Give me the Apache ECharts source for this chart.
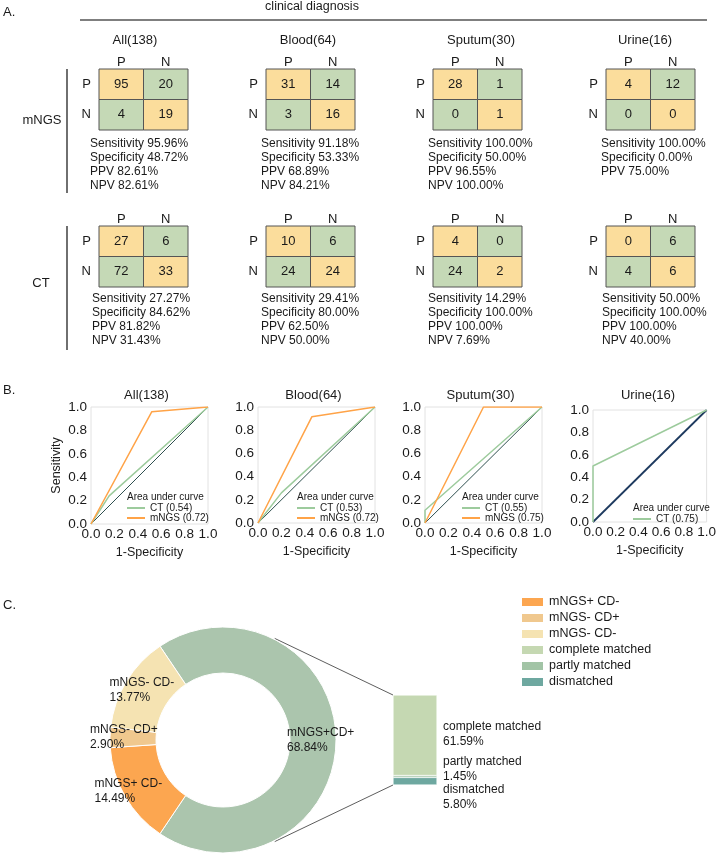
<!DOCTYPE html>
<html><head><meta charset="utf-8">
<script src="https://cdn.jsdelivr.net/npm/echarts@6/dist/echarts.min.js"></script>
<style>html,body{margin:0;padding:0;background:#fff}#c{width:719px;height:854px}</style>
</head><body><div id="c"></div>
<script>
const FONT = '"Liberation Sans", Arial, Helvetica, sans-serif';
const TXT = '#1a1a1a';

// ---------- Panel A data ----------
const groups = ['All(138)', 'Blood(64)', 'Sputum(30)', 'Urine(16)'];
const methods = ['mNGS', 'CT'];
const matLabels = ['P', 'N'];
const mngsMatrix = [[[95, 20], [4, 19]], [[31, 14], [3, 16]], [[28, 1], [0, 1]], [[4, 12], [0, 0]]];
const ctMatrix = [[[27, 6], [72, 33]], [[10, 6], [24, 24]], [[4, 0], [24, 2]], [[0, 6], [4, 6]]];
const mngsStats = [
  ['Sensitivity 95.96%', 'Specificity 48.72%', 'PPV 82.61%', 'NPV 82.61%'],
  ['Sensitivity 91.18%', 'Specificity 53.33%', 'PPV 68.89%', 'NPV 84.21%'],
  ['Sensitivity 100.00%', 'Specificity 50.00%', 'PPV 96.55%', 'NPV 100.00%'],
  ['Sensitivity 100.00%', 'Specificity 0.00%', 'PPV 75.00%']
];
const ctStats = [
  ['Sensitivity 27.27%', 'Specificity 84.62%', 'PPV 81.82%', 'NPV 31.43%'],
  ['Sensitivity 29.41%', 'Specificity 80.00%', 'PPV 62.50%', 'NPV 50.00%'],
  ['Sensitivity 14.29%', 'Specificity 100.00%', 'PPV 100.00%', 'NPV 7.69%'],
  ['Sensitivity 50.00%', 'Specificity 100.00%', 'PPV 100.00%', 'NPV 40.00%']
];

// ---------- Panel B data ----------
const rocMNGS = [
  [[0, 0], [0.52, 0.96], [1, 1]],
  [[0, 0], [0.46, 0.915], [1, 1]],
  [[0, 0], [0.5, 1], [1, 1]],
  null
];
const rocCT = [
  [[0, 0], [0.155, 0.24], [1, 1]],
  [[0, 0], [0.2, 0.26], [1, 1]],
  [[0, 0], [0, 0.11], [1, 1]],
  [[0, 0], [0, 0.5], [1, 1]]
];
const rocDiag = [[0, 0], [1, 1]];
const aucCT = ['0.54', '0.53', '0.55', '0.75'];
const aucMNGS = ['0.72', '0.72', '0.75', null];

// ---------- Panel C data ----------
const donutNames = ['mNGS+CD+', 'mNGS+ CD-', 'mNGS- CD+', 'mNGS- CD-'];
const donutValues = [68.84, 14.49, 2.90, 13.77];
const matchNames = ['complete matched', 'partly matched', 'dismatched'];
const matchValues = [61.59, 1.45, 5.80];
const legendNames = ['mNGS+ CD-', 'mNGS- CD+', 'mNGS- CD-', 'complete matched', 'partly matched', 'dismatched'];

// ---------- styles / layout ----------
const COL_DIAG = '#fbdd9c', COL_OFF = '#c5d9b6';
const donutColors = ['#abc5ad', '#fca650', '#f0c88e', '#f5e3b2'];
const matchColors = ['#c5d8b2', '#a2c4a6', '#6ea8a0'];
const COL_MNGS = '#ffa347', COL_CT = '#9dcb9d';

const matLeft = [99, 266, 433, 606];
const matTop = [69, 226];
const matW = 89, matH = 61;
const titleX = [135, 308, 481, 645];
const statsLeft = [[90, 261, 428, 601], [92, 261, 428, 602]];
const statsTop = [137, 292];

const rocGrid = [
  { l: 91, t: 407, w: 117, h: 117 },
  { l: 258, t: 407, w: 117, h: 116 },
  { l: 425, t: 407, w: 117, h: 116 },
  { l: 593, t: 410, w: 116, h: 112 }
];
const rocLeg = [{ x: 127, y: 497 }, { x: 297, y: 497 }, { x: 462, y: 497 }, { x: 633, y: 508 }];

const pieC = [223, 740], pieR = [67, 113];
const barBox = { l: 393, t: 695, w: 44, h: 90 };

const chart = echarts.init(document.getElementById('c'), null, { renderer: 'canvas' });

const grid = [], xAxis = [], yAxis = [], series = [], graphic = [], legend = [];

function txt(x, y, text, opts) {
  return {
    type: 'text', x: x, y: y, silent: true,
    style: Object.assign({ text: text, fontSize: 13, fill: TXT, fontFamily: FONT, textVerticalAlign: 'middle' }, opts || {})
  };
}

// ---------- Panel A ----------
graphic.push(txt(3, 12, 'A.', { fontSize: 13 }));
graphic.push(txt(312, 7, 'clinical diagnosis', { textAlign: 'center', fontSize: 12.5 }));
graphic.push({ type: 'line', silent: true, shape: { x1: 80, y1: 20, x2: 707, y2: 20 }, style: { stroke: '#555', lineWidth: 1.5 } });
groups.forEach((g, i) => graphic.push(txt(titleX[i], 40, g, { textAlign: 'center', fontSize: 13 })));
graphic.push(txt(42, 120, 'mNGS', { textAlign: 'center', fontSize: 13 }));
graphic.push(txt(41, 283, 'CT', { textAlign: 'center', fontSize: 13 }));
graphic.push({ type: 'line', silent: true, shape: { x1: 67, y1: 69, x2: 67, y2: 193 }, style: { stroke: '#222', lineWidth: 1.3 } });
graphic.push({ type: 'line', silent: true, shape: { x1: 67, y1: 226, x2: 67, y2: 350 }, style: { stroke: '#222', lineWidth: 1.3 } });

function renderCell(params, api) {
  const c = api.value(0), r = api.value(1), v = api.value(2);
  const p = api.coord([c, r]);
  const s = api.size([1, 1]);
  return {
    type: 'rect',
    shape: { x: p[0] - s[0] / 2, y: p[1] - s[1] / 2, width: s[0], height: s[1] },
    style: { fill: c === r ? COL_DIAG : COL_OFF, stroke: '#555', lineWidth: 1 },
    textContent: { style: { text: String(v), fontSize: 13, fill: TXT, fontFamily: FONT } },
    textConfig: { position: 'inside' }
  };
}

[mngsMatrix, ctMatrix].forEach((mats, m) => {
  mats.forEach((mat, g) => {
    const gi = grid.length;
    grid.push({ left: matLeft[g], top: matTop[m], width: matW, height: matH, containLabel: false });
    xAxis.push({
      gridIndex: gi, type: 'category', data: matLabels, position: 'top',
      axisLine: { show: false }, axisTick: { show: false }, splitLine: { show: false },
      axisLabel: { fontSize: 13, color: TXT, margin: 0.5, fontFamily: FONT }
    });
    yAxis.push({
      gridIndex: gi, type: 'category', data: matLabels, inverse: true,
      axisLine: { show: false }, axisTick: { show: false }, splitLine: { show: false },
      axisLabel: { fontSize: 13, color: TXT, margin: 8, fontFamily: FONT }
    });
    const data = [];
    for (let r = 0; r < 2; r++) for (let c = 0; c < 2; c++) data.push([c, r, mat[r][c]]);
    series.push({
      type: 'custom', xAxisIndex: gi, yAxisIndex: gi, renderItem: renderCell,
      encode: { x: 0, y: 1 }, data: data, silent: true, animation: false
    });
    const st = (m === 0 ? mngsStats : ctStats)[g];
    graphic.push({
      type: 'text', silent: true, x: statsLeft[m][g], y: statsTop[m],
      style: { text: st.join('\n'), fontSize: 12, lineHeight: 14, fill: TXT, fontFamily: FONT }
    });
  });
});

// ---------- Panel B ----------
graphic.push(txt(3, 390, 'B.', { fontSize: 13 }));
rocGrid.forEach((rg, i) => {
  const gi = grid.length;
  grid.push({ left: rg.l, top: rg.t, width: rg.w, height: rg.h, show: true, borderColor: '#e2e2e2', borderWidth: 1 });
  xAxis.push({
    gridIndex: gi, type: 'value', min: 0, max: 1, interval: 0.2,
    name: '1-Specificity', nameLocation: 'middle', nameGap: 22,
    nameTextStyle: { fontSize: 12.5, color: TXT, fontFamily: FONT },
    axisLine: { show: false }, axisTick: { show: false }, splitLine: { show: false },
    axisLabel: { fontSize: 13.5, color: TXT, margin: 3, fontFamily: FONT, formatter: v => v.toFixed(1) }
  });
  yAxis.push({
    gridIndex: gi, type: 'value', min: 0, max: 1, interval: 0.2,
    name: i === 0 ? 'Sensitivity' : '', nameLocation: 'middle', nameGap: 28,
    nameTextStyle: { fontSize: 12.5, color: TXT, fontFamily: FONT },
    axisLine: { show: false }, axisTick: { show: false }, splitLine: { show: false },
    axisLabel: { fontSize: 13.5, color: TXT, margin: 4, fontFamily: FONT, formatter: v => v.toFixed(1) }
  });
  graphic.push(txt(rg.l + rg.w / 2 - 3, 395, groups[i], { textAlign: 'center', fontSize: 13 }));
  series.push({
    type: 'line', xAxisIndex: gi, yAxisIndex: gi, data: rocDiag, showSymbol: false, symbol: 'none',
    silent: true, animation: false, z: 1,
    lineStyle: { color: i === 3 ? '#1e3a5f' : '#2f4f4f', width: i === 3 ? 1.8 : 1 }
  });
  const legData = [];
  const ctName = 'CT (' + aucCT[i] + ')';
  series.push({
    type: 'line', name: ctName, xAxisIndex: gi, yAxisIndex: gi, data: rocCT[i], showSymbol: false, symbol: 'none',
    animation: false, z: 2, color: COL_CT, lineStyle: { color: COL_CT, width: 1.5 }
  });
  legData.push(ctName);
  if (rocMNGS[i]) {
    const mName = 'mNGS (' + aucMNGS[i] + ')';
    series.push({
      type: 'line', name: mName, xAxisIndex: gi, yAxisIndex: gi, data: rocMNGS[i], showSymbol: false, symbol: 'none',
      animation: false, z: 3, color: COL_MNGS, lineStyle: { color: COL_MNGS, width: 1.5 }
    });
    legData.push(mName);
  }
  graphic.push(txt(rocLeg[i].x, rocLeg[i].y, 'Area under curve', { fontSize: 10 }));
  legend.push({
    left: rocLeg[i].x, top: rocLeg[i].y + 6, orient: 'vertical', padding: 0, data: legData,
    icon: 'rect', itemWidth: 18, itemHeight: 2, itemGap: 0, selectedMode: false,
    textStyle: { fontSize: 10, color: TXT, fontFamily: FONT, lineHeight: 10, padding: [0, 0, 0, 0] }
  });
});

// ---------- Panel C ----------
graphic.push(txt(3, 605, 'C.', { fontSize: 13 }));
const pieOffsets = [[-29, 0], [-48, 5], [-40, -1], [-34, -1]];
series.push({
  type: 'pie', center: pieC, radius: pieR, startAngle: 123.9, clockwise: true,
  animation: false, silent: true, avoidLabelOverlap: false,
  itemStyle: { borderColor: '#fff', borderWidth: 1 },
  label: {
    show: true, position: 'inside', fontSize: 12, lineHeight: 15, color: TXT, fontFamily: FONT,
    formatter: p => p.name + '\n' + p.value.toFixed(2) + '%'
  },
  labelLine: { show: false },
  labelLayout: p => ({ dx: pieOffsets[p.dataIndex][0], dy: pieOffsets[p.dataIndex][1], align: 'left' }),
  data: donutNames.map((n, i) => ({ name: n, value: donutValues[i], itemStyle: { color: donutColors[i] } }))
});

const barGi = grid.length;
grid.push({ left: barBox.l, top: barBox.t, width: barBox.w, height: barBox.h });
xAxis.push({ gridIndex: barGi, type: 'category', data: [''], show: false });
yAxis.push({ gridIndex: barGi, type: 'value', min: 0, max: matchValues.reduce((a, b) => a + b, 0), show: false });
const barLabelOffsets = [[0, -1], [0, -7], [0, 16]];
// stack bottom-up: dismatched, partly, complete
[2, 1, 0].forEach(k => {
  series.push({
    type: 'bar', name: matchNames[k], xAxisIndex: barGi, yAxisIndex: barGi, stack: 'm',
    barWidth: '100%', animation: false, silent: true, color: matchColors[k],
    itemStyle: { color: matchColors[k], borderColor: '#fff', borderWidth: 0.5 },
    label: {
      show: true, position: 'right', distance: 6, offset: barLabelOffsets[k],
      fontSize: 12, lineHeight: 15, color: TXT, fontFamily: FONT, align: 'left',
      formatter: p => p.seriesName + '\n' + p.value.toFixed(2) + '%'
    },
    data: [matchValues[k]]
  });
});

legend.push({
  left: 520, top: 595, orient: 'vertical', padding: 0, data: legendNames, icon: 'rect',
  itemWidth: 23, itemHeight: 10, itemGap: 2, selectedMode: false,
  textStyle: { fontSize: 12.5, color: TXT, fontFamily: FONT, lineHeight: 14 }
});

// connector lines from donut to bar (computed from layout constants)
const a1 = 63 * Math.PI / 180;
graphic.push({ type: 'line', silent: true, shape: { x1: pieC[0] + (pieR[1] + 1) * Math.cos(a1), y1: pieC[1] - (pieR[1] + 1) * Math.sin(a1), x2: barBox.l, y2: barBox.t }, style: { stroke: '#333', lineWidth: 0.8 } });
graphic.push({ type: 'line', silent: true, shape: { x1: pieC[0] + (pieR[1] + 1) * Math.cos(a1), y1: pieC[1] + (pieR[1] + 1) * Math.sin(a1), x2: barBox.l, y2: barBox.t + barBox.h }, style: { stroke: '#333', lineWidth: 0.8 } });

chart.setOption({
  animation: false,
  backgroundColor: '#fff',
  textStyle: { fontFamily: FONT },
  grid: grid, xAxis: xAxis, yAxis: yAxis, series: series, legend: legend, graphic: graphic
});
</script>
</body></html>
